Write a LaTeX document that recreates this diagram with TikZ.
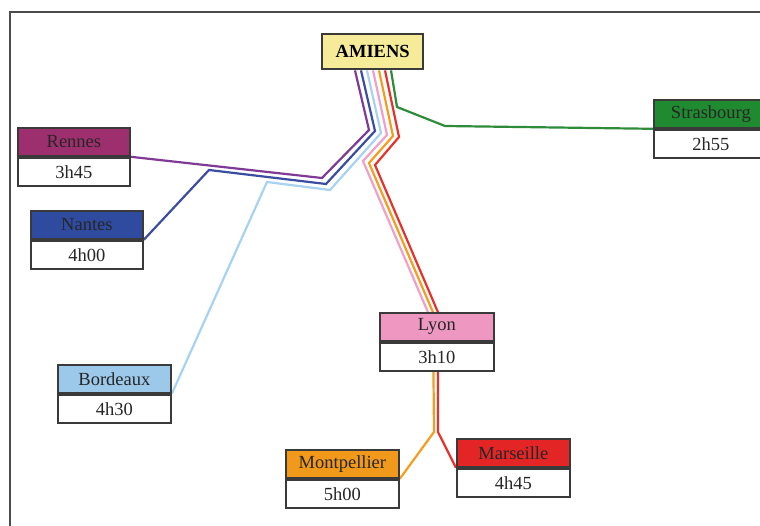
\documentclass[tikz,border=0pt]{standalone}
\usepackage{fontspec}
\setmainfont{Liberation Serif}
\newfontfamily\cityfont{Liberation Serif}
\usetikzlibrary{backgrounds}
\definecolor{bordc}{HTML}{3A3A3A}
\definecolor{cRennes}{HTML}{9E2F6F}
\definecolor{cNantes}{HTML}{2F4B9F}
\definecolor{cBordeaux}{HTML}{9CC9EA}
\definecolor{cStras}{HTML}{1F8A30}
\definecolor{cLyon}{HTML}{EE97C1}
\definecolor{cMontp}{HTML}{F0991B}
\definecolor{cMars}{HTML}{E32526}
\definecolor{cAmiens}{HTML}{F6EB98}
\definecolor{lPurple}{HTML}{7F3A96}
\definecolor{lBlue}{HTML}{3A4DA0}
\definecolor{lLight}{HTML}{A8D2F2}
\definecolor{lPink}{HTML}{F0A0C8}
\definecolor{lOrange}{HTML}{F39C1E}
\definecolor{lRed}{HTML}{E8312B}
\definecolor{lGreen}{HTML}{2E8B3A}
\tikzset{
  hdr/.style={draw=bordc, line width=1.8pt, minimum height=28pt, inner sep=0pt,
    anchor=north west, font=\cityfont\fontsize{18.5}{21}\selectfont, text=black!85},
  tm/.style={hdr, fill=white},
  route/.style={line width=2.2pt, line join=miter},
  frameline/.style={draw=black!70, line width=1.5pt}
}
\begin{document}
\begin{tikzpicture}[x=1pt,y=-1pt]
\useasboundingbox (0,0) rectangle (760,526);
\begin{scope}
\clip (0,0) rectangle (760,526);
\draw[frameline] (10,526) -- (10,12) -- (760,12);

% Amiens
\node[draw=bordc, line width=2.4pt, fill=cAmiens, minimum width=101pt, minimum height=35pt,
  inner sep=0pt, anchor=north west, font=\bfseries\fontsize{18.5}{21}\selectfont] (amiens) at (321,33) {AMIENS};

% cities
\node[hdr, fill=cRennes, minimum width=112pt] (rennes) at (17,127) {Rennes};
\node[tm, minimum width=112pt] (rennesT) at (rennes.south west) {3h45};

\node[hdr, fill=cNantes, minimum width=112pt] (nantes) at (30,210) {Nantes};
\node[tm, minimum width=112pt] (nantesT) at (nantes.south west) {4h00};

\node[hdr, fill=cBordeaux, minimum width=113pt] (bordeaux) at (57,364) {Bordeaux};
\node[tm, minimum width=113pt] (bordeauxT) at (bordeaux.south west) {4h30};

\node[hdr, fill=cStras, minimum width=114pt] (stras) at (653,99) {Strasbourg};
\node[tm, minimum width=114pt] (strasT) at (stras.south west) {2h55};

\node[hdr, fill=cLyon, minimum width=114pt] (lyon) at (379,312) {Lyon};
\node[tm, minimum width=114pt] (lyonT) at (lyon.south west) {3h10};

\node[hdr, fill=cMontp, minimum width=113pt] (montp) at (285,449) {Montpellier};
\node[tm, minimum width=113pt] (montpT) at (montp.south west) {5h00};

\node[hdr, fill=cMars, minimum width=113pt] (mars) at (456,438) {Marseille};
\node[tm, minimum width=113pt] (marsT) at (mars.south west) {4h45};
\end{scope}

\begin{pgfonlayer}{background}
\draw[route, lPurple] ([xshift=34pt]amiens.south west) -- (369,130) -- (322,178) -- (rennes.south east);
\draw[route, lBlue] ([xshift=40pt]amiens.south west) -- (375,131) -- (326,184) -- (209,170) -- (nantes.south east);
\draw[route, lLight] ([xshift=46pt]amiens.south west) -- (381,133) -- (330,190) -- (267,182) -- (bordeaux.south east);
\draw[route, lPink] ([xshift=52pt]amiens.south west) -- (387,135) -- (363,161) -- ([xshift=-9pt]lyon.north);
\draw[route, lOrange] ([xshift=58pt]amiens.south west) -- (393,136) -- (369,163) -- ([xshift=-4pt]lyon.north) -- (434,432) -- (montp.south east);
\draw[route, lRed] ([xshift=64pt]amiens.south west) -- (399,137) -- (375,165) -- ([xshift=1pt]lyon.north) -- (438,432) -- (mars.south west);
\draw[route, lGreen] ([xshift=70pt]amiens.south west) -- (397,107) -- (445,126) -- (stras.south west);
\end{pgfonlayer}
\end{tikzpicture}
\end{document}
